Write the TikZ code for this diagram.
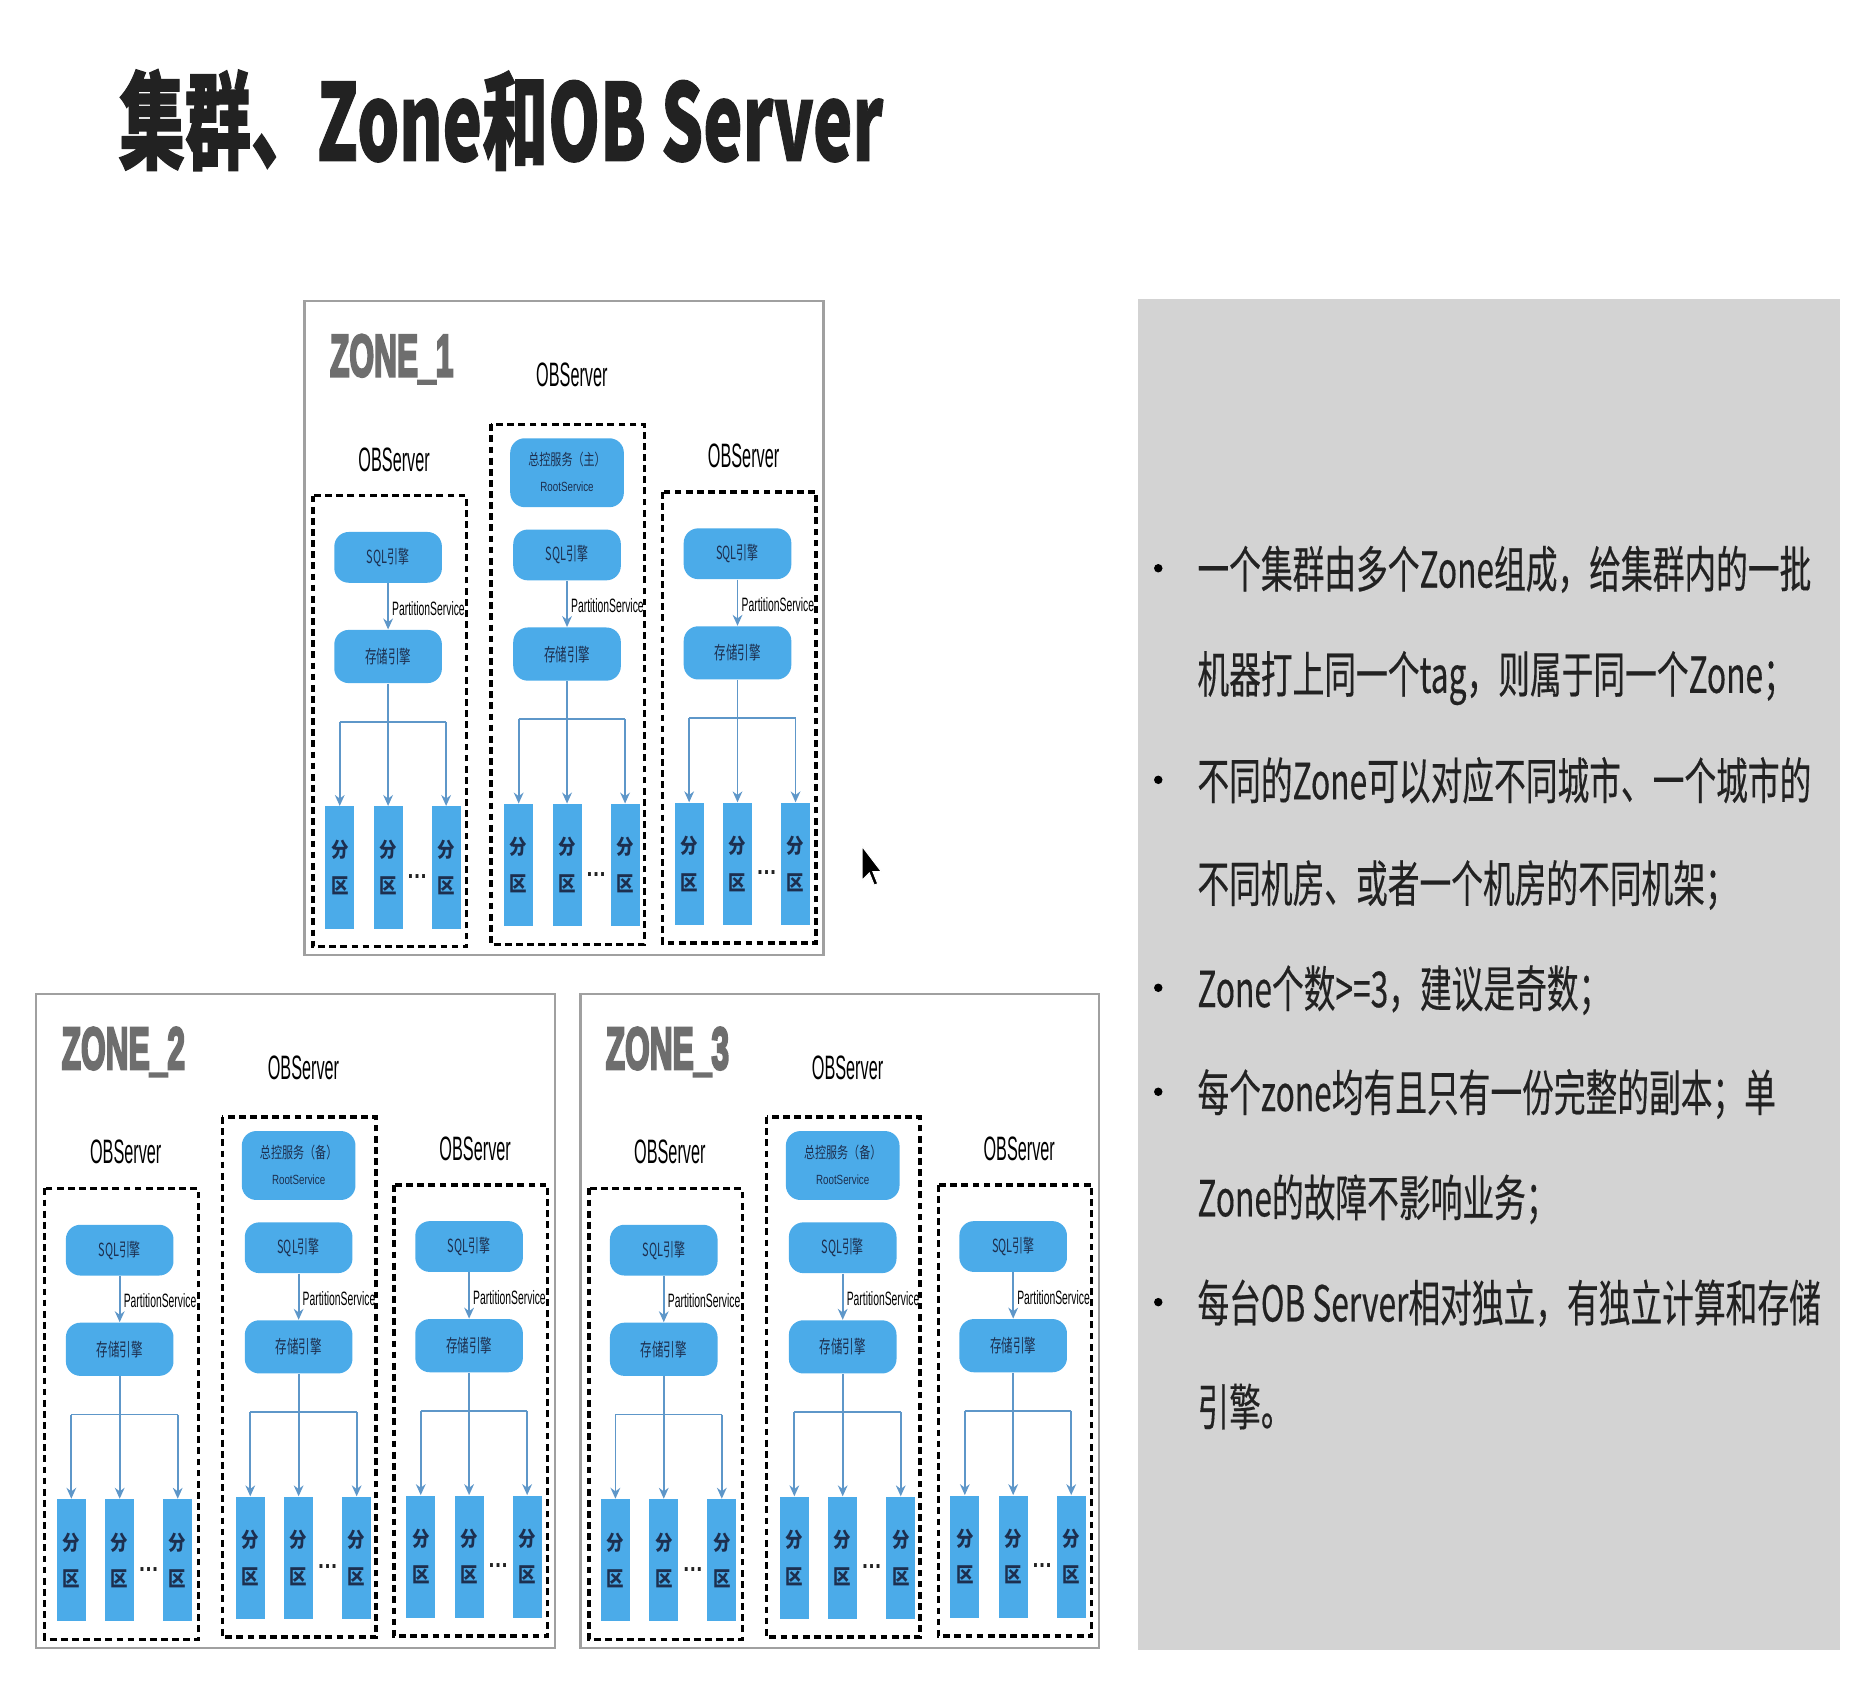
\documentclass[tikz,border=0pt]{standalone}
\usepackage{fontspec}
\usetikzlibrary{arrows.meta}
\newfontfamily\cjk{Noto Sans CJK SC}
\newfontfamily\cjkmed{Noto Sans CJK SC}[UprightFeatures={FakeBold=0.4}]
\newfontfamily\cjkheavy{Noto Sans CJK SC}[BoldFeatures={FakeBold=1.2}]
\newfontfamily\lat{Liberation Sans}
\newfontfamily\latheavy{Liberation Sans}[BoldFeatures={FakeBold=5}]
\definecolor{obblue}{HTML}{4BABE9}
\definecolor{obline}{HTML}{5E97C9}
\definecolor{obtext}{HTML}{1D2F4F}
\definecolor{panel}{HTML}{D3D3D3}
\definecolor{zoneedge}{HTML}{A0A0A0}
\definecolor{zonetext}{HTML}{6E6E6E}
\definecolor{txt}{HTML}{222222}
\newcommand\sqz[2]{\resizebox{#1}{\height}{#2}}
\newcommand\pch[1]{{\cjk\bfseries\fontsize{8.5pt}{14pt}\selectfont\scalebox{0.85}[1]{#1}}}
\newcommand\parttext{\pch{分}\\[3pt]\pch{区}}
\newcommand\obs{\sqz{29.5pt}{\lat\fontsize{14pt}{16pt}\selectfont OBServer}}
\tikzset{
  pill/.style={fill=obblue, rounded corners=6pt, minimum width=44.5pt, inner sep=0pt, text=obtext},
  part/.style={fill=obblue, minimum width=12pt, minimum height=50.5pt, inner sep=0pt, text=obtext, align=center},
  conn/.style={draw=obline, line width=0.75pt, -{Stealth[length=4.5pt,width=4pt]}},
  lineonly/.style={draw=obline, line width=0.75pt},
  dbox/.style={draw=black, line width=1.4pt, dash pattern=on 2.8pt off 1.8pt},
  lbl/.style={inner sep=0pt},
  bul/.style={circle, fill=black, inner sep=0pt, minimum size=3.5pt},
  bline/.style={anchor=base west, inner sep=0pt, text=txt},
}
\newcommand\srvcore[3]{%
  \node[pill, minimum height=21pt] (#1sql) at (#2,#3) {\sqz{17.5pt}{\cjk\fontsize{7.5pt}{9pt}\selectfont SQL引擎}};
  \node[pill, minimum height=22pt] (#1sto) at (#2,#3+82) {\sqz{19pt}{\cjk\fontsize{7.5pt}{9pt}\selectfont 存储引擎}};
  \draw[conn] (#1sql) -- (#1sto);
  \node[lbl, anchor=west] (#1ps) at (#2+3,#3+42) {\sqz{30pt}{\lat\fontsize{8pt}{9pt}\selectfont PartitionService}};
  \node[part] (#1pa) at (#2-40,#3+256.5) {\parttext};
  \node[part] (#1pb) at (#2,#3+256.5) {\parttext};
  \node[part] (#1pc) at (#2+48,#3+256.5) {\parttext};
  \node[lbl, text=txt] (#1dots) at (#2+24,#3+264) {\sqz{8.5pt}{\lat\bfseries\fontsize{11pt}{11pt}\selectfont …}};
  \coordinate (#1ba) at (#2-40,#3+136);
  \coordinate (#1bc) at (#2+48,#3+136);
  \draw[lineonly] (#1ba) -- (#1bc);
  \draw[conn] (#1sto) -- (#1pb);
  \draw[conn] (#1ba) -- (#1pa);
  \draw[conn] (#1bc) -- (#1pc);
}
\newcommand\srvplain[3]{%
  \draw[dbox] (#2-62,#3-51) rectangle (#2+65,#3+322);
  \node[lbl] (#1lab) at (#2+5,#3-81) {\obs};
  \srvcore{#1}{#2}{#3}
}
\newcommand\srvroot[4]{%
  \draw[dbox] (#2-63,#3-108) rectangle (#2+64,#3+322);
  \node[lbl] (#1lab) at (#2+4,#3-149) {\obs};
  \node[pill, minimum width=47pt, minimum height=28.5pt] (#1root) at (#2,#3-68) {};
  \node[lbl, text=obtext] (#1rta) at (#2,#3-79) {\sqz{32pt}{\cjk\fontsize{6.5pt}{8pt}\selectfont 总控服务（#4）}};
  \node[lbl, text=obtext] (#1rtb) at (#2,#3-56) {\sqz{22pt}{\lat\fontsize{5.5pt}{6pt}\selectfont RootService}};
  \srvcore{#1}{#2}{#3}
}
\newcommand\zonebox[5]{%
  \begin{scope}[shift={(#2,#3)}]
    \draw[draw=zoneedge, line width=1pt, fill=white] (252,249) rectangle (681,790);
    \node[lbl, text=zonetext] (#1name) at (324,297) {\sqz{51pt}{\latheavy\bfseries\fontsize{24.5pt}{26pt}\selectfont ZONE\_#4}};
    \srvplain{#1l}{321}{461}
    \srvroot{#1m}{469}{459}{#5}
    \srvplain{#1r}{610}{458}
  \end{scope}
}
\begin{document}
\begin{tikzpicture}[x=0.5pt, y=-0.5pt]
  \useasboundingbox[fill=white] (0,0) rectangle (1550,1401);
  % title
  \node[anchor=base west, inner sep=0pt, text=txt] (title) at (98,133)
    {\sqz{316pt}{\cjkheavy\bfseries\fontsize{44pt}{48pt}\selectfont 集群、Zone和OB Server}};
  % zones
  \zonebox{za}{0}{0}{1}{主}
  \zonebox{zb}{-222}{573}{2}{备}
  \zonebox{zc}{228}{573}{3}{备}
  % cursor
  \filldraw[fill=black, draw=white, line width=0.4pt] (713,700) -- (713,728) -- (719,722) -- (723,732) -- (726,731) -- (722,721) -- (729,721) -- cycle;
  % panel
  \fill[panel] (941,247) rectangle (1522,1365);
  \node[bul] (b1) at (958,470) {};
  \node[bul] (b2) at (958,645) {};
  \node[bul] (b3) at (958,817) {};
  \node[bul] (b4) at (958,903) {};
  \node[bul] (b5) at (958,1077) {};
  \newcommand\bl[1]{\scalebox{0.64}[1]{\cjkmed\fontsize{20.5pt}{22pt}\selectfont #1}}
  \node[bline] (l1) at (990,486) {\bl{一个集群由多个Zone组成，给集群内的一批}};
  \node[bline] (l2) at (990,573) {\bl{机器打上同一个tag，则属于同一个Zone；}};
  \node[bline] (l3) at (990,661) {\bl{不同的Zone可以对应不同城市、一个城市的}};
  \node[bline] (l4) at (990,746) {\bl{不同机房、或者一个机房的不同机架；}};
  \node[bline] (l5) at (990,833) {\bl{Zone个数>=3，建议是奇数；}};
  \node[bline] (l6) at (990,919) {\bl{每个zone均有且只有一份完整的副本；单}};
  \node[bline] (l7) at (990,1006) {\bl{Zone的故障不影响业务；}};
  \node[bline] (l8) at (990,1093) {\bl{每台OB Server相对独立，有独立计算和存储}};
  \node[bline] (l9) at (990,1179) {\bl{引擎。}};
\end{tikzpicture}
\end{document}
